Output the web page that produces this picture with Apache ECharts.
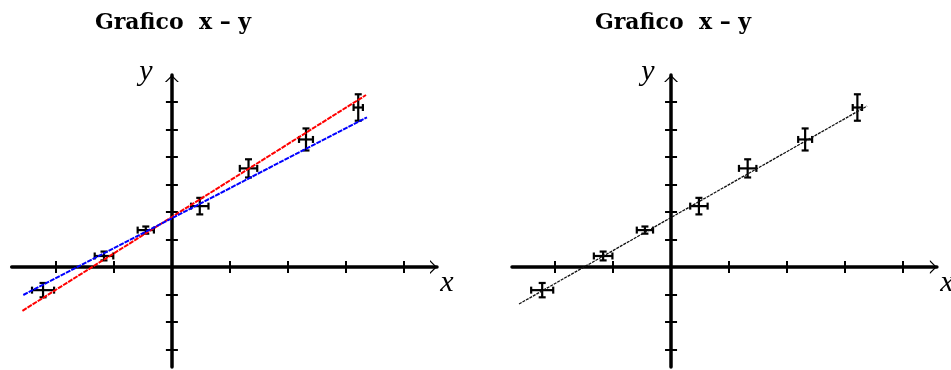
<!DOCTYPE html>
<html>
<head>
<meta charset="utf-8">
<script src="https://cdn.jsdelivr.net/npm/echarts@6/dist/echarts.min.js"></script>
<style>
  html, body { margin: 0; padding: 0; background: #fff; }
  #chart { width: 951px; height: 370px; }
</style>
</head>
<body>
<div id="chart"></div>
<script>
// Measured points and their uncertainties
const xValues = [-2.22, -1.17, -0.45, 0.48, 1.32, 2.31, 3.21];
const yValues = [-0.84, 0.40, 1.34, 2.21, 3.58, 4.63, 5.79];
const xErrors = [0.19, 0.16, 0.14, 0.15, 0.15, 0.12, 0.08];
const yErrors = [0.26, 0.16, 0.13, 0.30, 0.33, 0.40, 0.48];

// Straight lines through the points, given by their two end points
const redLine = [[-2.575, -1.59], [3.344, 6.243]];
const blueLine = [[-2.56, -1.016], [3.361, 5.434]];
const blackLine = [[-2.619, -1.343], [3.377, 5.844]];

// Tick marks on the axes
const xTicks = [-2, -1, 1, 2, 3, 4];
const yTicks = [-3, -2, -1, 1, 2, 3, 4, 5, 6];

// Texts
const titleText = 'Grafico  x \u2013 y';
const xName = 'x';
const yName = 'y';

const points = xValues.map((x, i) => [x, yValues[i], xErrors[i], yErrors[i]]);

// Open chevron used as arrow head at the end of each axis
const chevron = 'path://M0,7 L7,0 L14,7 L12.3,7 L7,1.7 L1.7,7 Z';

function renderErrorCross(params, api) {
  const x = api.value(0), y = api.value(1);
  const ex = api.value(2), ey = api.value(3);
  const c = api.coord([x, y]);
  const l = api.coord([x - ex, y]);
  const r = api.coord([x + ex, y]);
  const t = api.coord([x, y + ey]);
  const b = api.coord([x, y - ey]);
  const cap = 3.5;
  const style = { stroke: '#000', lineWidth: 2.2 };
  const seg = (x1, y1, x2, y2) => ({ type: 'line', shape: { x1, y1, x2, y2 }, style });
  return {
    type: 'group',
    children: [
      seg(l[0], c[1], r[0], c[1]),
      seg(c[0], t[1], c[0], b[1]),
      seg(l[0], c[1] - cap, l[0], c[1] + cap),
      seg(r[0], c[1] - cap, r[0], c[1] + cap),
      seg(c[0] - cap, t[1], c[0] + cap, t[1]),
      seg(c[0] - cap, b[1], c[0] + cap, b[1])
    ]
  };
}

function xAxisPair(gridIndex, min, max) {
  const base = {
    type: 'value', gridIndex, min, max,
    axisLabel: { show: false },
    splitLine: { show: false },
    axisTick: { show: true, customValues: xTicks, length: 6, lineStyle: { color: '#000', width: 2 } }
  };
  return [
    Object.assign({}, base, {
      position: 'bottom',
      axisLine: {
        show: true, onZero: true,
        symbol: ['none', chevron], symbolSize: [14, 7], symbolOffset: [0, -3.5],
        lineStyle: { color: '#000', width: 3.5 }
      }
    }),
    Object.assign({}, base, {
      position: 'top',
      axisLine: { show: false, onZero: true }
    })
  ];
}

function yAxisPair(gridIndex, min, max) {
  const base = {
    type: 'value', gridIndex, min, max,
    axisLabel: { show: false },
    splitLine: { show: false },
    axisTick: { show: true, customValues: yTicks, length: 6, lineStyle: { color: '#000', width: 2 } }
  };
  return [
    Object.assign({}, base, {
      position: 'left',
      axisLine: {
        show: true, onZero: true,
        symbol: ['none', chevron], symbolSize: [14, 7], symbolOffset: [0, -3.5],
        lineStyle: { color: '#000', width: 3.5 }
      }
    }),
    Object.assign({}, base, {
      position: 'right',
      axisLine: { show: false, onZero: true }
    })
  ];
}

const yMin = -3.63, yMax = 6.97;

const titleFont = 'bold 22px "DejaVu Serif", serif';
const nameFont = 'italic 30px "Liberation Serif", "Times New Roman", serif';

const option = {
  animation: false,
  backgroundColor: '#fff',
  grid: [
    { left: 11.7, top: 75, width: 425.3, height: 292, containLabel: false },
    { left: 512, top: 75, width: 424.9, height: 292, containLabel: false }
  ],
  xAxis: [].concat(xAxisPair(0, -2.76, 4.567), xAxisPair(1, -2.74, 4.58)),
  yAxis: [].concat(yAxisPair(0, yMin, yMax), yAxisPair(1, yMin, yMax)),
  graphic: [
    { type: 'text', x: 173, y: 23, style: { text: titleText, font: titleFont, fill: '#000', align: 'center', verticalAlign: 'middle' } },
    { type: 'text', x: 673, y: 23, style: { text: titleText, font: titleFont, fill: '#000', align: 'center', verticalAlign: 'middle' } },
    { type: 'text', x: 146, y: 72, style: { text: yName, font: nameFont, fill: '#000', align: 'center', verticalAlign: 'middle' } },
    { type: 'text', x: 447, y: 283, style: { text: xName, font: nameFont, fill: '#000', align: 'center', verticalAlign: 'middle' } },
    { type: 'text', x: 648, y: 72, style: { text: yName, font: nameFont, fill: '#000', align: 'center', verticalAlign: 'middle' } },
    { type: 'text', x: 947, y: 283, style: { text: xName, font: nameFont, fill: '#000', align: 'center', verticalAlign: 'middle' } }
  ],
  series: [
    {
      type: 'line', xAxisIndex: 0, yAxisIndex: 0, data: redLine,
      showSymbol: false, symbol: 'none', silent: true,
      lineStyle: { color: '#ff0000', width: 2, type: [5, 1] }
    },
    {
      type: 'line', xAxisIndex: 0, yAxisIndex: 0, data: blueLine,
      showSymbol: false, symbol: 'none', silent: true,
      lineStyle: { color: '#0000ff', width: 2, type: [5, 1] }
    },
    {
      type: 'custom', xAxisIndex: 0, yAxisIndex: 0, data: points,
      renderItem: renderErrorCross, encode: { x: 0, y: 1 }, z: 3
    },
    {
      type: 'line', xAxisIndex: 2, yAxisIndex: 2, data: blackLine,
      showSymbol: false, symbol: 'none', silent: true,
      lineStyle: { color: '#111', width: 1.3, type: [3, 1] }
    },
    {
      type: 'custom', xAxisIndex: 2, yAxisIndex: 2, data: points,
      renderItem: renderErrorCross, encode: { x: 0, y: 1 }, z: 3
    }
  ]
};

const chart = echarts.init(document.getElementById('chart'), null, { renderer: 'canvas' });
chart.setOption(option);
</script>
</body>
</html>
